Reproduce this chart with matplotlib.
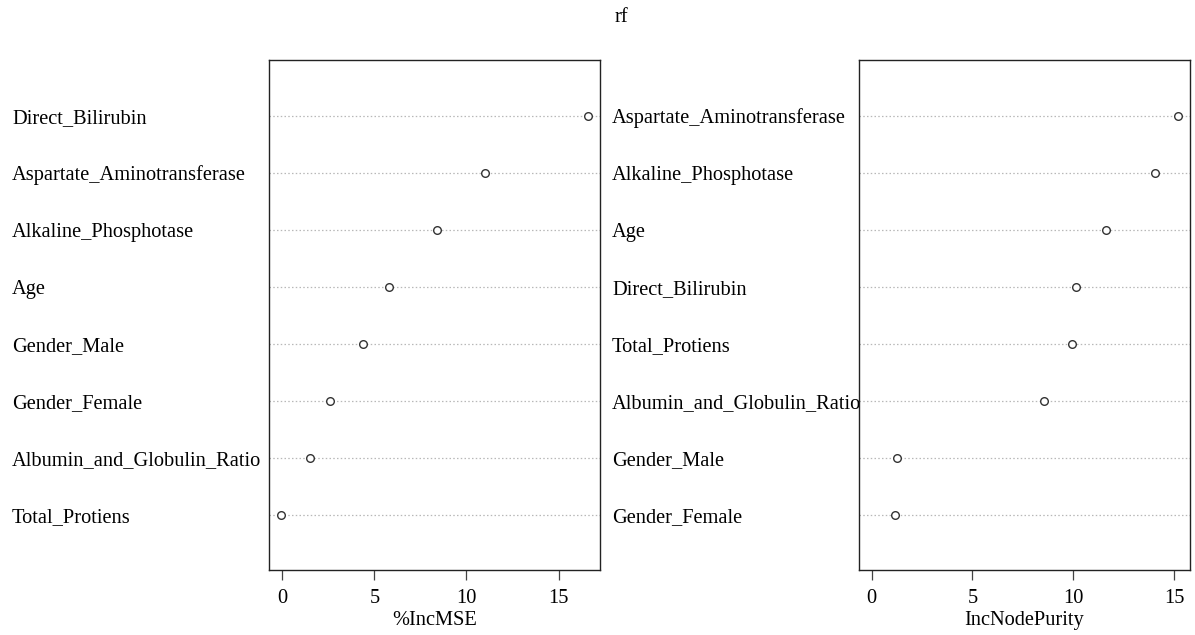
import matplotlib
matplotlib.use('Agg')
import matplotlib.pyplot as plt
from matplotlib.transforms import Bbox

plt.rcParams['font.family'] = ['Liberation Serif', 'DejaVu Serif']

# --- data (bottom to top, as in varImpPlot) ---
mse_labels = ["Total_Protiens", "Albumin_and_Globulin_Ratio", "Gender_Female",
              "Gender_Male", "Age", "Alkaline_Phosphotase",
              "Aspartate_Aminotransferase", "Direct_Bilirubin"]
mse_values = [-0.05, 1.52, 2.61, 4.41, 5.81, 8.39, 11.0, 16.6]

purity_labels = ["Gender_Female", "Gender_Male", "Albumin_and_Globulin_Ratio",
                 "Total_Protiens", "Direct_Bilirubin", "Age",
                 "Alkaline_Phosphotase", "Aspartate_Aminotransferase"]
purity_values = [1.17, 1.24, 8.53, 9.91, 10.11, 11.60, 14.06, 15.17]

ticks = [0, 5, 10, 15]

W, H = 1195, 635
FS = 14.7
fig = plt.figure(figsize=(W / 100, H / 100), dpi=100)
fig.patch.set_facecolor('white')


def panel(x0, x1, labels, values, xlabel, xlim, label_x, clip):
    ax = fig.add_axes([x0 / W, 1 - 570 / H, (x1 - x0) / W, (570 - 60) / H])
    n = len(values)
    ys = list(range(1, n + 1))
    for y in ys:
        ax.axhline(y, color='#b8b8b8', linestyle=(0, (1.2, 1.8)), lw=0.9, zorder=1)
    ax.plot(values, ys, 'o', ms=5.5, mfc='white', mec='#333333', mew=1.0, zorder=3)
    ax.set_xlim(*xlim)
    ax.set_ylim(0.035, 8.98)
    ax.set_yticks([])
    ax.set_xticks(ticks)
    ax.tick_params(axis='x', length=7, width=0.9, color='#444444', pad=7,
                   labelsize=FS)
    ax.set_xlabel(xlabel, fontsize=FS, labelpad=2)
    for s in ax.spines.values():
        s.set_color('#222222')
        s.set_linewidth(1.0)
    for lab, y in zip(labels, ys):
        t = ax.text(label_x, y, lab, transform=ax.get_yaxis_transform(),
                    ha='left', va='center_baseline', fontsize=FS)
        if clip is not None:
            t.set_clip_box(clip)
            t.set_clip_on(True)
    return ax


ax1 = panel(269, 600, mse_labels, mse_values, '%IncMSE', (-0.72, 17.25),
            (12 - 269) / (600 - 269), None)
ax2 = panel(859, 1190, purity_labels, purity_values, 'IncNodePurity', (-0.62, 15.78),
            (612 - 859) / (1190 - 859), Bbox.from_extents(600, 0, 859, H))

fig.text(621 / W, 1 - 18 / H, 'rf', ha='center', va='center', fontsize=FS)

fig.savefig('out.png', dpi=100)
